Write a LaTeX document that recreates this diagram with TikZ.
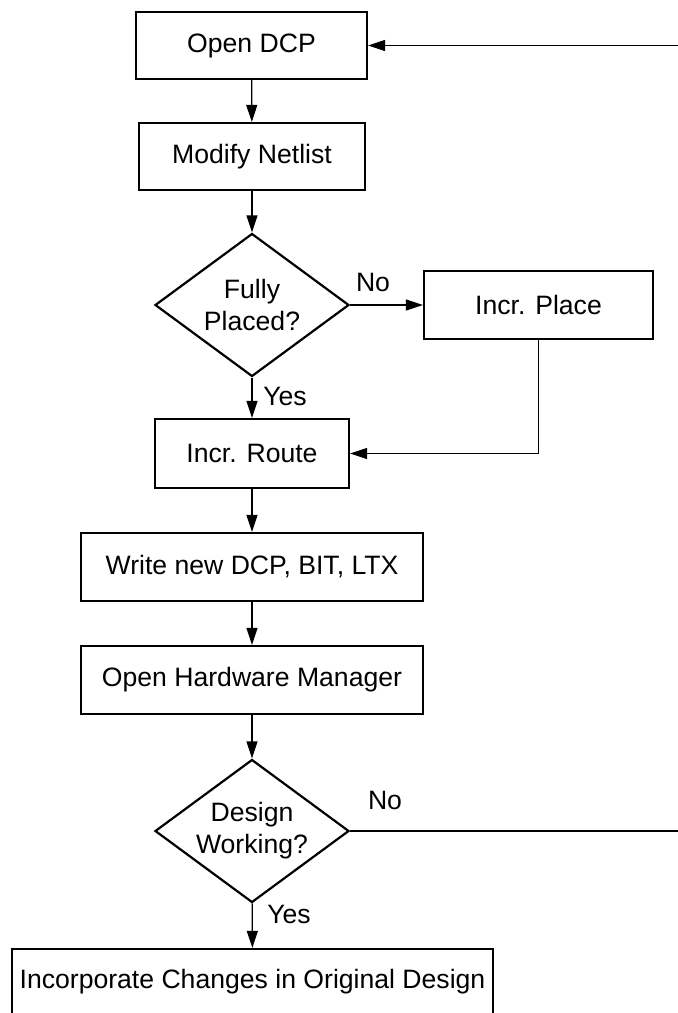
\documentclass[tikz,border=0pt]{standalone}
\usepackage{fontspec}
\setmainfont{Liberation Sans}
\usetikzlibrary{arrows.meta,shapes.geometric}
\begin{document}
\begin{tikzpicture}[x=1pt,y=-1pt,
  txt/.style={font=\fontsize{26.6}{32}\selectfont,align=center},
  box/.style={txt,draw,line width=2.2pt,rectangle,inner sep=0pt},
  dec/.style={txt,draw,line width=2.2pt,diamond,inner sep=0pt,aspect=1.36,minimum width=194pt,minimum height=143pt},
  conn/.style={line width=1.2pt,-{Triangle[length=17pt,width=11pt]}},
  plain/.style={line width=1.2pt},
  lab/.style={txt,inner sep=0pt}]
\useasboundingbox (0,0) rectangle (678,1013);
\node[box,minimum width=231pt,minimum height=67pt] (open) at (251.5,45.5) {Open DCP};
\node[box,minimum width=226pt,minimum height=67pt] (mod) at (252,156.5) {Modify Netlist};
\node[dec] (fp) at (252,305) {Fully\\Placed?};
\node[box,minimum width=229pt,minimum height=68pt] (place) at (538.5,305) {Incr. Place};
\node[box,minimum width=194pt,minimum height=69pt] (route) at (252,453.5) {Incr. Route};
\node[box,minimum width=342pt,minimum height=68pt] (write) at (252,567) {Write new DCP, BIT, LTX};
\node[box,minimum width=342pt,minimum height=68pt] (hw) at (252,680) {Open Hardware Manager};
\node[dec] (dw) at (252,831) {Design\\Working?};
\node[box,minimum width=481pt,minimum height=66pt] (inc) at (252.5,982) {Incorporate Changes in Original Design};
\coordinate (e1) at (678,45.5);
\coordinate (e2) at (678,831);
\draw[conn] (open) -- (mod);
\draw[conn] (mod) -- (fp);
\draw[conn] (fp.east) -- (place.west);
\draw[conn] (fp) -- (route);
\draw[conn] (place.south) |- (route.east);
\draw[conn] (route) -- (write);
\draw[conn] (write) -- (hw);
\draw[conn] (hw) -- (dw);
\draw[conn] (dw) -- (inc);
\draw[plain] (dw.east) -- (e2);
\draw[conn] (e1) -- (open.east);
\node[lab] (no1) at (373,282) {No};
\node[lab] (yes1) at (285,396) {Yes};
\node[lab] (no2) at (385,800) {No};
\node[lab] (yes2) at (289,914) {Yes};
\end{tikzpicture}
\end{document}
